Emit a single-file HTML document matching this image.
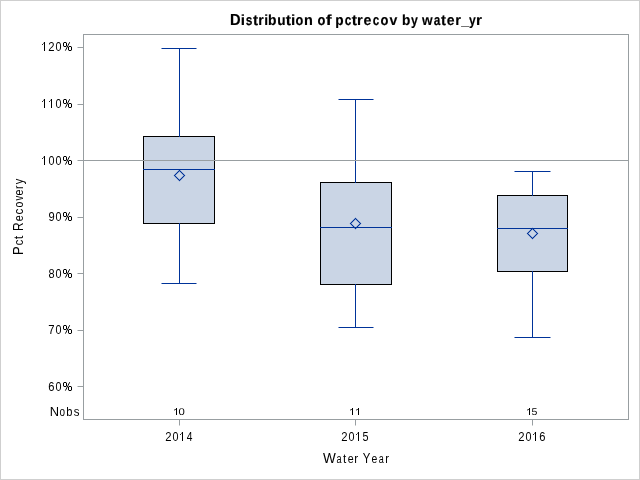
<!DOCTYPE html>
<html>
<head>
<meta charset="utf-8">
<style>
html,body{margin:0;padding:0;background:#fff;width:640px;height:480px;overflow:hidden;}
svg{display:block;will-change:transform;}
text{font-family:"Liberation Sans",sans-serif;fill:#000;}
</style>
</head>
<body>
<svg width="640" height="480" viewBox="0 0 640 480" shape-rendering="crispEdges">
<rect x="0" y="0" width="640" height="480" fill="#fff"/>
<rect x="0.5" y="0.5" width="639" height="479" fill="none" stroke="#cfcfcf" stroke-width="1"/>

<!-- title -->
<g font-weight="bold" text-rendering="geometricPrecision" stroke="#000" stroke-width="0.15">
<text transform="translate(230.08,25.00) scale(1.000,1.090)" font-size="14.67">D</text>
<text transform="translate(240.83,25.00) scale(1.043,1.000)" font-size="14.67">i</text>
<text transform="translate(245.64,25.00) scale(0.815,1.000)" font-size="14.67">s</text>
<text transform="translate(253.01,25.00) scale(1.038,1.000)" font-size="14.67">t</text>
<text transform="translate(258.28,25.00) scale(0.951,1.000)" font-size="14.67">r</text>
<text transform="translate(264.23,25.00) scale(0.944,1.000)" font-size="14.67">i</text>
<text transform="translate(267.98,25.00) scale(0.947,1.000)" font-size="14.67">b</text>
<text transform="translate(277.25,25.00) scale(0.932,1.000)" font-size="14.67">u</text>
<text transform="translate(285.81,25.00) scale(1.082,1.000)" font-size="14.67">t</text>
<text transform="translate(290.93,25.00) scale(1.043,1.000)" font-size="14.67">i</text>
<text transform="translate(295.60,25.00) scale(0.870,1.000)" font-size="14.67">o</text>
<text transform="translate(303.94,25.00) scale(0.988,1.000)" font-size="14.67">n</text>
<text transform="translate(317.59,25.00) scale(0.883,1.000)" font-size="14.67">o</text>
<text transform="translate(325.80,25.00) scale(1.212,1.000)" font-size="14.67">f</text>
<text transform="translate(335.20,25.00) scale(0.933,1.000)" font-size="14.67">p</text>
<text transform="translate(344.64,25.00) scale(0.811,1.000)" font-size="14.67">c</text>
<text transform="translate(351.81,25.00) scale(1.082,1.000)" font-size="14.67">t</text>
<text transform="translate(357.04,25.00) scale(0.996,1.000)" font-size="14.67">r</text>
<text transform="translate(363.44,25.00) scale(0.974,1.000)" font-size="14.67">e</text>
<text transform="translate(372.64,25.00) scale(0.797,1.000)" font-size="14.67">c</text>
<text transform="translate(380.59,25.00) scale(0.883,1.000)" font-size="14.67">o</text>
<text transform="translate(389.45,25.00) scale(0.958,1.000)" font-size="14.67">v</text>
<text transform="translate(402.10,25.00) scale(0.933,1.000)" font-size="14.67">b</text>
<text transform="translate(411.00,25.00) scale(0.841,1.000)" font-size="14.67">y</text>
<text transform="translate(422.10,25.00) scale(0.931,1.000)" font-size="14.67">w</text>
<text transform="translate(433.71,25.00) scale(0.811,1.000)" font-size="14.67">a</text>
<text transform="translate(441.02,25.00) scale(1.016,1.000)" font-size="14.67">t</text>
<text transform="translate(446.75,25.00) scale(0.960,1.000)" font-size="14.67">e</text>
<text transform="translate(455.14,25.00) scale(0.996,1.000)" font-size="14.67">r</text>
<text transform="translate(461.19,25.00) scale(0.930,1.000)" font-size="14.67">_</text>
<text transform="translate(469.01,25.00) scale(0.829,1.000)" font-size="14.67">y</text>
<text transform="translate(475.99,25.00) scale(1.040,1.000)" font-size="14.67">r</text>
</g>

<!-- boxes -->
<g>
<rect x="143.5" y="136.5" width="71" height="87" fill="#cad5e5" stroke="#000"/>
<rect x="320.5" y="182.5" width="71" height="102" fill="#cad5e5" stroke="#000"/>
<rect x="497.5" y="195.5" width="70" height="76" fill="#cad5e5" stroke="#000"/>
</g>

<!-- whiskers -->
<g stroke="#003399" stroke-width="1" fill="none">
<path d="M179.5 48V137M179.5 223V284"/>
<path d="M355.5 99V183M355.5 284V328"/>
<path d="M532.5 171V196M532.5 271V338"/>
<!-- medians -->
<path d="M143 169.5H215M320 227.5H392M497 228.5H568"/>
</g>
<g stroke="#003399" stroke-width="1" fill="none" shape-rendering="geometricPrecision">
<path d="M161.5 48.5H196.5M161.5 283.5H196.5"/>
<path d="M338.5 99.5H373.5M338.5 327.5H373.5"/>
<path d="M514.5 171.5H550.5M514.5 337.5H550.5"/>
</g>
<!-- means -->
<g fill="none" stroke="#003399" stroke-width="1.3" shape-rendering="geometricPrecision" opacity="0.6">
<path d="M179.5 170.5L184.5 175.5L179.5 180.5L174.5 175.5Z"/>
<path d="M355.5 218.5L360.5 223.5L355.5 228.5L350.5 223.5Z"/>
<path d="M532.5 228.5L537.5 233.5L532.5 238.5L527.5 233.5Z"/>
</g>
<g fill="#003399" shape-rendering="crispEdges">
<path d="M174 175h1v1h-1zM175 174h1v1h-1zM175 176h1v1h-1zM176 173h1v1h-1zM176 177h1v1h-1zM177 172h1v1h-1zM177 178h1v1h-1zM178 171h1v1h-1zM178 179h1v1h-1zM179 170h1v1h-1zM179 180h1v1h-1zM180 171h1v1h-1zM180 179h1v1h-1zM181 172h1v1h-1zM181 178h1v1h-1zM182 173h1v1h-1zM182 177h1v1h-1zM183 174h1v1h-1zM183 176h1v1h-1zM184 175h1v1h-1z"/>
<path d="M350 223h1v1h-1zM351 222h1v1h-1zM351 224h1v1h-1zM352 221h1v1h-1zM352 225h1v1h-1zM353 220h1v1h-1zM353 226h1v1h-1zM354 219h1v1h-1zM354 227h1v1h-1zM355 218h1v1h-1zM355 228h1v1h-1zM356 219h1v1h-1zM356 227h1v1h-1zM357 220h1v1h-1zM357 226h1v1h-1zM358 221h1v1h-1zM358 225h1v1h-1zM359 222h1v1h-1zM359 224h1v1h-1zM360 223h1v1h-1z"/>
<path d="M527 233h1v1h-1zM528 232h1v1h-1zM528 234h1v1h-1zM529 231h1v1h-1zM529 235h1v1h-1zM530 230h1v1h-1zM530 236h1v1h-1zM531 229h1v1h-1zM531 237h1v1h-1zM532 228h1v1h-1zM532 238h1v1h-1zM533 229h1v1h-1zM533 237h1v1h-1zM534 230h1v1h-1zM534 236h1v1h-1zM535 231h1v1h-1zM535 235h1v1h-1zM536 232h1v1h-1zM536 234h1v1h-1zM537 233h1v1h-1z"/>
</g>

<!-- frame -->
<rect x="83.5" y="34.5" width="545" height="385" fill="none" stroke="#989ea1"/>
<!-- ref line -->
<path d="M84 160.5H628" stroke="#989ea1"/>
<!-- y ticks -->
<path d="M77.5 47.5H83M77.5 104.5H83M77.5 160.5H83M77.5 217.5H83M77.5 273.5H83M77.5 330.5H83M77.5 386.5H83" stroke="#989ea1" shape-rendering="geometricPrecision"/>
<!-- x ticks -->
<path d="M179.5 420V425.5M355.5 420V425.5M532.5 420V425.5" stroke="#989ea1" shape-rendering="geometricPrecision"/>

<!-- y tick labels -->
<g>
<rect x="44" y="42" width="1" height="9"/><rect x="43" y="43" width="1" height="1" fill-opacity="0.55"/><rect x="42" y="44" width="1" height="1" fill-opacity="0.85"/><rect x="43" y="42" width="1" height="1" fill-opacity="0.15"/>
<text transform="translate(48.33,51.00) scale(0.942,1.000)" font-size="12">2</text>
<text transform="translate(55.48,51.00) scale(0.898,1.000)" font-size="12">0</text>
<rect x="64" y="42" width="1" height="1"/><rect x="64" y="46" width="1" height="1"/><rect x="65" y="42" width="1" height="1"/><rect x="65" y="46" width="1" height="1"/><rect x="63" y="43" width="1" height="1"/><rect x="66" y="43" width="1" height="1"/><rect x="63" y="44" width="1" height="1"/><rect x="66" y="44" width="1" height="1"/><rect x="63" y="45" width="1" height="1"/><rect x="66" y="45" width="1" height="1"/><rect x="63" y="42" width="1" height="1" fill-opacity="0.35"/><rect x="66" y="42" width="1" height="1" fill-opacity="0.35"/><rect x="63" y="46" width="1" height="1" fill-opacity="0.35"/><rect x="66" y="46" width="1" height="1" fill-opacity="0.35"/><rect x="69" y="46" width="1" height="1"/><rect x="69" y="50" width="1" height="1"/><rect x="70" y="46" width="1" height="1"/><rect x="70" y="50" width="1" height="1"/><rect x="68" y="47" width="1" height="1"/><rect x="71" y="47" width="1" height="1"/><rect x="68" y="48" width="1" height="1"/><rect x="71" y="48" width="1" height="1"/><rect x="68" y="49" width="1" height="1"/><rect x="71" y="49" width="1" height="1"/><rect x="68" y="46" width="1" height="1" fill-opacity="0.35"/><rect x="71" y="46" width="1" height="1" fill-opacity="0.35"/><rect x="68" y="50" width="1" height="1" fill-opacity="0.35"/><rect x="71" y="50" width="1" height="1" fill-opacity="0.35"/><path d="M69.70 42.20L65.40 50.60" stroke="#000" stroke-width="0.95" shape-rendering="geometricPrecision"/>
<rect x="44" y="99" width="1" height="9"/><rect x="43" y="100" width="1" height="1" fill-opacity="0.55"/><rect x="42" y="101" width="1" height="1" fill-opacity="0.85"/><rect x="43" y="99" width="1" height="1" fill-opacity="0.15"/>
<rect x="51" y="99" width="1" height="9"/><rect x="50" y="100" width="1" height="1" fill-opacity="0.55"/><rect x="49" y="101" width="1" height="1" fill-opacity="0.85"/><rect x="50" y="99" width="1" height="1" fill-opacity="0.15"/>
<text transform="translate(55.48,108.00) scale(0.898,1.000)" font-size="12">0</text>
<rect x="64" y="99" width="1" height="1"/><rect x="64" y="103" width="1" height="1"/><rect x="65" y="99" width="1" height="1"/><rect x="65" y="103" width="1" height="1"/><rect x="63" y="100" width="1" height="1"/><rect x="66" y="100" width="1" height="1"/><rect x="63" y="101" width="1" height="1"/><rect x="66" y="101" width="1" height="1"/><rect x="63" y="102" width="1" height="1"/><rect x="66" y="102" width="1" height="1"/><rect x="63" y="99" width="1" height="1" fill-opacity="0.35"/><rect x="66" y="99" width="1" height="1" fill-opacity="0.35"/><rect x="63" y="103" width="1" height="1" fill-opacity="0.35"/><rect x="66" y="103" width="1" height="1" fill-opacity="0.35"/><rect x="69" y="103" width="1" height="1"/><rect x="69" y="107" width="1" height="1"/><rect x="70" y="103" width="1" height="1"/><rect x="70" y="107" width="1" height="1"/><rect x="68" y="104" width="1" height="1"/><rect x="71" y="104" width="1" height="1"/><rect x="68" y="105" width="1" height="1"/><rect x="71" y="105" width="1" height="1"/><rect x="68" y="106" width="1" height="1"/><rect x="71" y="106" width="1" height="1"/><rect x="68" y="103" width="1" height="1" fill-opacity="0.35"/><rect x="71" y="103" width="1" height="1" fill-opacity="0.35"/><rect x="68" y="107" width="1" height="1" fill-opacity="0.35"/><rect x="71" y="107" width="1" height="1" fill-opacity="0.35"/><path d="M69.70 99.20L65.40 107.60" stroke="#000" stroke-width="0.95" shape-rendering="geometricPrecision"/>
<rect x="44" y="156" width="1" height="9"/><rect x="43" y="157" width="1" height="1" fill-opacity="0.55"/><rect x="42" y="158" width="1" height="1" fill-opacity="0.85"/><rect x="43" y="156" width="1" height="1" fill-opacity="0.15"/>
<text transform="translate(48.48,165.00) scale(0.898,1.000)" font-size="12">0</text>
<text transform="translate(55.48,165.00) scale(0.898,1.000)" font-size="12">0</text>
<rect x="64" y="156" width="1" height="1"/><rect x="64" y="160" width="1" height="1"/><rect x="65" y="156" width="1" height="1"/><rect x="65" y="160" width="1" height="1"/><rect x="63" y="157" width="1" height="1"/><rect x="66" y="157" width="1" height="1"/><rect x="63" y="158" width="1" height="1"/><rect x="66" y="158" width="1" height="1"/><rect x="63" y="159" width="1" height="1"/><rect x="66" y="159" width="1" height="1"/><rect x="63" y="156" width="1" height="1" fill-opacity="0.35"/><rect x="66" y="156" width="1" height="1" fill-opacity="0.35"/><rect x="63" y="160" width="1" height="1" fill-opacity="0.35"/><rect x="66" y="160" width="1" height="1" fill-opacity="0.35"/><rect x="69" y="160" width="1" height="1"/><rect x="69" y="164" width="1" height="1"/><rect x="70" y="160" width="1" height="1"/><rect x="70" y="164" width="1" height="1"/><rect x="68" y="161" width="1" height="1"/><rect x="71" y="161" width="1" height="1"/><rect x="68" y="162" width="1" height="1"/><rect x="71" y="162" width="1" height="1"/><rect x="68" y="163" width="1" height="1"/><rect x="71" y="163" width="1" height="1"/><rect x="68" y="160" width="1" height="1" fill-opacity="0.35"/><rect x="71" y="160" width="1" height="1" fill-opacity="0.35"/><rect x="68" y="164" width="1" height="1" fill-opacity="0.35"/><rect x="71" y="164" width="1" height="1" fill-opacity="0.35"/><path d="M69.70 156.20L65.40 164.60" stroke="#000" stroke-width="0.95" shape-rendering="geometricPrecision"/>
<text transform="translate(48.38,221.00) scale(0.929,1.000)" font-size="12">9</text>
<text transform="translate(55.48,221.00) scale(0.898,1.000)" font-size="12">0</text>
<rect x="64" y="212" width="1" height="1"/><rect x="64" y="216" width="1" height="1"/><rect x="65" y="212" width="1" height="1"/><rect x="65" y="216" width="1" height="1"/><rect x="63" y="213" width="1" height="1"/><rect x="66" y="213" width="1" height="1"/><rect x="63" y="214" width="1" height="1"/><rect x="66" y="214" width="1" height="1"/><rect x="63" y="215" width="1" height="1"/><rect x="66" y="215" width="1" height="1"/><rect x="63" y="212" width="1" height="1" fill-opacity="0.35"/><rect x="66" y="212" width="1" height="1" fill-opacity="0.35"/><rect x="63" y="216" width="1" height="1" fill-opacity="0.35"/><rect x="66" y="216" width="1" height="1" fill-opacity="0.35"/><rect x="69" y="216" width="1" height="1"/><rect x="69" y="220" width="1" height="1"/><rect x="70" y="216" width="1" height="1"/><rect x="70" y="220" width="1" height="1"/><rect x="68" y="217" width="1" height="1"/><rect x="71" y="217" width="1" height="1"/><rect x="68" y="218" width="1" height="1"/><rect x="71" y="218" width="1" height="1"/><rect x="68" y="219" width="1" height="1"/><rect x="71" y="219" width="1" height="1"/><rect x="68" y="216" width="1" height="1" fill-opacity="0.35"/><rect x="71" y="216" width="1" height="1" fill-opacity="0.35"/><rect x="68" y="220" width="1" height="1" fill-opacity="0.35"/><rect x="71" y="220" width="1" height="1" fill-opacity="0.35"/><path d="M69.70 212.20L65.40 220.60" stroke="#000" stroke-width="0.95" shape-rendering="geometricPrecision"/>
<text transform="translate(48.42,278.00) scale(0.915,1.000)" font-size="12">8</text>
<text transform="translate(55.48,278.00) scale(0.898,1.000)" font-size="12">0</text>
<rect x="64" y="269" width="1" height="1"/><rect x="64" y="273" width="1" height="1"/><rect x="65" y="269" width="1" height="1"/><rect x="65" y="273" width="1" height="1"/><rect x="63" y="270" width="1" height="1"/><rect x="66" y="270" width="1" height="1"/><rect x="63" y="271" width="1" height="1"/><rect x="66" y="271" width="1" height="1"/><rect x="63" y="272" width="1" height="1"/><rect x="66" y="272" width="1" height="1"/><rect x="63" y="269" width="1" height="1" fill-opacity="0.35"/><rect x="66" y="269" width="1" height="1" fill-opacity="0.35"/><rect x="63" y="273" width="1" height="1" fill-opacity="0.35"/><rect x="66" y="273" width="1" height="1" fill-opacity="0.35"/><rect x="69" y="273" width="1" height="1"/><rect x="69" y="277" width="1" height="1"/><rect x="70" y="273" width="1" height="1"/><rect x="70" y="277" width="1" height="1"/><rect x="68" y="274" width="1" height="1"/><rect x="71" y="274" width="1" height="1"/><rect x="68" y="275" width="1" height="1"/><rect x="71" y="275" width="1" height="1"/><rect x="68" y="276" width="1" height="1"/><rect x="71" y="276" width="1" height="1"/><rect x="68" y="273" width="1" height="1" fill-opacity="0.35"/><rect x="71" y="273" width="1" height="1" fill-opacity="0.35"/><rect x="68" y="277" width="1" height="1" fill-opacity="0.35"/><rect x="71" y="277" width="1" height="1" fill-opacity="0.35"/><path d="M69.70 269.20L65.40 277.60" stroke="#000" stroke-width="0.95" shape-rendering="geometricPrecision"/>
<text transform="translate(48.32,334.00) scale(0.944,1.000)" font-size="12">7</text>
<text transform="translate(55.48,334.00) scale(0.898,1.000)" font-size="12">0</text>
<rect x="64" y="325" width="1" height="1"/><rect x="64" y="329" width="1" height="1"/><rect x="65" y="325" width="1" height="1"/><rect x="65" y="329" width="1" height="1"/><rect x="63" y="326" width="1" height="1"/><rect x="66" y="326" width="1" height="1"/><rect x="63" y="327" width="1" height="1"/><rect x="66" y="327" width="1" height="1"/><rect x="63" y="328" width="1" height="1"/><rect x="66" y="328" width="1" height="1"/><rect x="63" y="325" width="1" height="1" fill-opacity="0.35"/><rect x="66" y="325" width="1" height="1" fill-opacity="0.35"/><rect x="63" y="329" width="1" height="1" fill-opacity="0.35"/><rect x="66" y="329" width="1" height="1" fill-opacity="0.35"/><rect x="69" y="329" width="1" height="1"/><rect x="69" y="333" width="1" height="1"/><rect x="70" y="329" width="1" height="1"/><rect x="70" y="333" width="1" height="1"/><rect x="68" y="330" width="1" height="1"/><rect x="71" y="330" width="1" height="1"/><rect x="68" y="331" width="1" height="1"/><rect x="71" y="331" width="1" height="1"/><rect x="68" y="332" width="1" height="1"/><rect x="71" y="332" width="1" height="1"/><rect x="68" y="329" width="1" height="1" fill-opacity="0.35"/><rect x="71" y="329" width="1" height="1" fill-opacity="0.35"/><rect x="68" y="333" width="1" height="1" fill-opacity="0.35"/><rect x="71" y="333" width="1" height="1" fill-opacity="0.35"/><path d="M69.70 325.20L65.40 333.60" stroke="#000" stroke-width="0.95" shape-rendering="geometricPrecision"/>
<text transform="translate(48.33,391.00) scale(0.930,1.000)" font-size="12">6</text>
<text transform="translate(55.48,391.00) scale(0.898,1.000)" font-size="12">0</text>
<rect x="64" y="382" width="1" height="1"/><rect x="64" y="386" width="1" height="1"/><rect x="65" y="382" width="1" height="1"/><rect x="65" y="386" width="1" height="1"/><rect x="63" y="383" width="1" height="1"/><rect x="66" y="383" width="1" height="1"/><rect x="63" y="384" width="1" height="1"/><rect x="66" y="384" width="1" height="1"/><rect x="63" y="385" width="1" height="1"/><rect x="66" y="385" width="1" height="1"/><rect x="63" y="382" width="1" height="1" fill-opacity="0.35"/><rect x="66" y="382" width="1" height="1" fill-opacity="0.35"/><rect x="63" y="386" width="1" height="1" fill-opacity="0.35"/><rect x="66" y="386" width="1" height="1" fill-opacity="0.35"/><rect x="69" y="386" width="1" height="1"/><rect x="69" y="390" width="1" height="1"/><rect x="70" y="386" width="1" height="1"/><rect x="70" y="390" width="1" height="1"/><rect x="68" y="387" width="1" height="1"/><rect x="71" y="387" width="1" height="1"/><rect x="68" y="388" width="1" height="1"/><rect x="71" y="388" width="1" height="1"/><rect x="68" y="389" width="1" height="1"/><rect x="71" y="389" width="1" height="1"/><rect x="68" y="386" width="1" height="1" fill-opacity="0.35"/><rect x="71" y="386" width="1" height="1" fill-opacity="0.35"/><rect x="68" y="390" width="1" height="1" fill-opacity="0.35"/><rect x="71" y="390" width="1" height="1" fill-opacity="0.35"/><path d="M69.70 382.20L65.40 390.60" stroke="#000" stroke-width="0.95" shape-rendering="geometricPrecision"/>
<text transform="translate(49.84,416.00) scale(1.074,1.000)" font-size="12">N</text>
<text transform="translate(59.48,416.00) scale(0.830,1.000)" font-size="12">o</text>
<text transform="translate(66.28,416.00) scale(0.927,1.000)" font-size="12">b</text>
<text transform="translate(73.68,416.00) scale(0.956,1.000)" font-size="12">s</text>
</g>
<!-- x tick labels -->
<g>
<rect x="182" y="432" width="1" height="9"/><rect x="181" y="433" width="1" height="1" fill-opacity="0.55"/><rect x="180" y="434" width="1" height="1" fill-opacity="0.85"/><rect x="181" y="432" width="1" height="1" fill-opacity="0.15"/>
<text transform="translate(165.33,441.00) scale(0.942,1.000)" font-size="12">2</text>
<text transform="translate(172.48,441.00) scale(0.898,1.000)" font-size="12">0</text>
<text transform="translate(186.67,441.00) scale(0.852,1.000)" font-size="12">4</text>
<rect x="358" y="432" width="1" height="9"/><rect x="357" y="433" width="1" height="1" fill-opacity="0.55"/><rect x="356" y="434" width="1" height="1" fill-opacity="0.85"/><rect x="357" y="432" width="1" height="1" fill-opacity="0.15"/>
<text transform="translate(341.33,441.00) scale(0.942,1.000)" font-size="12">2</text>
<text transform="translate(348.48,441.00) scale(0.898,1.000)" font-size="12">0</text>
<text transform="translate(362.47,441.00) scale(0.905,1.000)" font-size="12">5</text>
<rect x="535" y="432" width="1" height="9"/><rect x="534" y="433" width="1" height="1" fill-opacity="0.55"/><rect x="533" y="434" width="1" height="1" fill-opacity="0.85"/><rect x="534" y="432" width="1" height="1" fill-opacity="0.15"/>
<text transform="translate(518.33,441.00) scale(0.942,1.000)" font-size="12">2</text>
<text transform="translate(525.48,441.00) scale(0.898,1.000)" font-size="12">0</text>
<text transform="translate(539.33,441.00) scale(0.930,1.000)" font-size="12">6</text>
</g>
<!-- nobs -->
<g>
<rect x="176" y="408" width="1" height="7"/><rect x="175" y="409" width="1" height="1" fill-opacity="0.75"/><rect x="174" y="409" width="1" height="1" fill-opacity="0.45"/><rect x="174" y="410" width="1" height="1" fill-opacity="0.35"/>
<text transform="translate(178.46,415.00) scale(1.153,1.000)" font-size="9.8" text-rendering="geometricPrecision">0</text>
<rect x="352" y="408" width="1" height="7"/><rect x="351" y="409" width="1" height="1" fill-opacity="0.75"/><rect x="350" y="409" width="1" height="1" fill-opacity="0.45"/><rect x="350" y="410" width="1" height="1" fill-opacity="0.35"/>
<rect x="358" y="408" width="1" height="7"/><rect x="357" y="409" width="1" height="1" fill-opacity="0.75"/><rect x="356" y="409" width="1" height="1" fill-opacity="0.45"/><rect x="356" y="410" width="1" height="1" fill-opacity="0.35"/>
<rect x="529" y="408" width="1" height="7"/><rect x="528" y="409" width="1" height="1" fill-opacity="0.75"/><rect x="527" y="409" width="1" height="1" fill-opacity="0.45"/><rect x="527" y="410" width="1" height="1" fill-opacity="0.35"/>
<text transform="translate(531.58,415.00) scale(1.076,1.000)" font-size="9.8" text-rendering="geometricPrecision">5</text>
</g>
<!-- axis labels -->
<g>
<text transform="translate(322.94,463.00) scale(1.018,1.090)" font-size="13.33">W</text>
<text transform="translate(336.61,463.00) scale(0.686,1.000)" font-size="13.33">a</text>
<text transform="translate(342.92,463.00) scale(0.881,1.000)" font-size="13.33">t</text>
<text transform="translate(347.65,463.00) scale(0.799,1.000)" font-size="13.33">e</text>
<text transform="translate(354.23,463.00) scale(0.870,1.000)" font-size="13.33">r</text>
<text transform="translate(362.65,463.00) scale(0.855,1.090)" font-size="13.33">Y</text>
<text transform="translate(371.56,463.00) scale(0.783,1.000)" font-size="13.33">e</text>
<text transform="translate(378.72,463.00) scale(0.679,1.000)" font-size="13.33">a</text>
<text transform="translate(385.36,463.00) scale(0.840,1.000)" font-size="13.33">r</text>
</g>
<g>
<text transform="translate(23.00,254.96) rotate(-90) scale(0.973,1.090)" font-size="13.33">P</text>
<text transform="translate(23.00,245.37) rotate(-90) scale(0.835,1.000)" font-size="13.33">c</text>
<text transform="translate(23.00,239.19) rotate(-90) scale(0.940,1.000)" font-size="13.33">t</text>
<text transform="translate(23.00,230.98) rotate(-90) scale(0.897,1.090)" font-size="13.33">R</text>
<text transform="translate(23.00,221.31) rotate(-90) scale(0.807,1.000)" font-size="13.33">e</text>
<text transform="translate(23.00,214.50) rotate(-90) scale(0.887,1.000)" font-size="13.33">c</text>
<text transform="translate(23.00,207.54) rotate(-90) scale(0.794,1.000)" font-size="13.33">o</text>
<text transform="translate(23.00,200.53) rotate(-90) scale(0.715,1.000)" font-size="13.33">v</text>
<text transform="translate(23.00,195.45) rotate(-90) scale(0.799,1.000)" font-size="13.33">e</text>
<text transform="translate(23.00,188.95) rotate(-90) scale(0.795,1.000)" font-size="13.33">r</text>
<text transform="translate(23.00,184.23) rotate(-90) scale(0.848,1.000)" font-size="13.33">y</text>
</g>
</svg>
</body>
</html>
